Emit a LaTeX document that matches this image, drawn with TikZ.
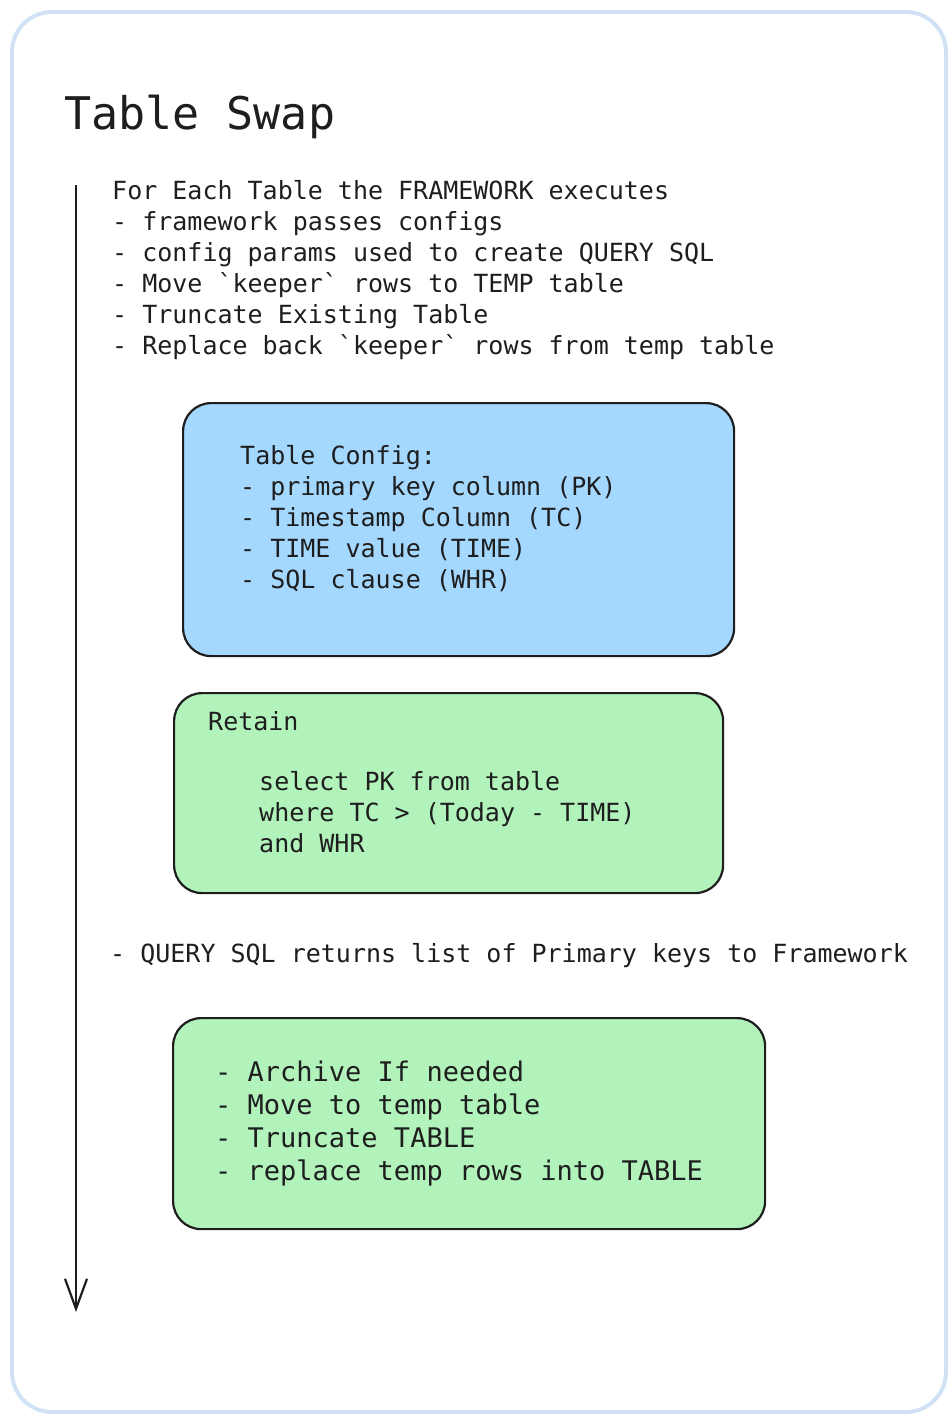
\documentclass[tikz,border=0pt]{standalone}
\usepackage{fontspec}
\usepackage{tikz}
\usetikzlibrary{arrows.meta}
\newfontfamily\sketchfont{DejaVu Sans Mono}
\definecolor{ink}{HTML}{1E1E1E}
\definecolor{framecol}{HTML}{D0E2F4}
\definecolor{cfgblue}{HTML}{A5D8FF}
\definecolor{stepgreen}{HTML}{B2F2BB}
\tikzset{
  txt/.style={anchor=base west, inner sep=0pt, align=left, text=ink,
              font=\sketchfont\fontsize{25}{31}\selectfont},
  box/.style={draw=ink, line width=2.2pt, rounded corners=28pt,
              anchor=north west, inner sep=0pt},
}
\begin{document}
\begin{tikzpicture}[x=1pt,y=-1pt]
\useasboundingbox (0,0) rectangle (952,1418);
\node[draw=framecol, line width=4pt, rounded corners=40pt,
      minimum width=934pt, minimum height=1400pt, anchor=north west] (frame) at (10,10) {};
\node[box, fill=cfgblue, minimum width=551pt, minimum height=253pt] (config) at (182,402) {};
\node[box, fill=stepgreen, minimum width=549pt, minimum height=200pt] (retain) at (173,692) {};
\node[box, fill=stepgreen, minimum width=592pt, minimum height=211pt] (archive) at (172,1017) {};
% base anchor of a multi-line node sits on its last line
\node[txt, font=\sketchfont\fontsize{45}{54}\selectfont] (title) at (64,130) {Table Swap};
\node[txt] (steps) at (112,354) {For Each Table the FRAMEWORK executes\\
- framework passes configs\\
- config params used to create QUERY SQL\\
- Move `keeper` rows to TEMP table\\
- Truncate Existing Table\\
- Replace back `keeper` rows from temp table};
\node[txt] (configtxt) at (240,588) {Table Config:\\
- primary key column (PK)\\
- Timestamp Column (TC)\\
- TIME value (TIME)\\
- SQL clause (WHR)};
\node[txt] (retainhead) at (208,730) {Retain};
\node[txt] (retainsql) at (259,852) {select PK from table\\
where TC > (Today - TIME)\\
and WHR};
\node[txt] (returns) at (110,962) {- QUERY SQL returns list of Primary keys to Framework};
\node[txt, font=\sketchfont\fontsize{27}{33}\selectfont] (archivetxt) at (215,1180) {- Archive If needed\\
- Move to temp table\\
- Truncate TABLE\\
- replace temp rows into TABLE};
\coordinate (flowtop) at (76,185);
\coordinate (flowend) at (76,1312);
\draw[ink, line width=2.2pt, -{Straight Barb[length=30pt,width=22pt]}] (flowtop) -- (flowend);
\end{tikzpicture}
\end{document}
